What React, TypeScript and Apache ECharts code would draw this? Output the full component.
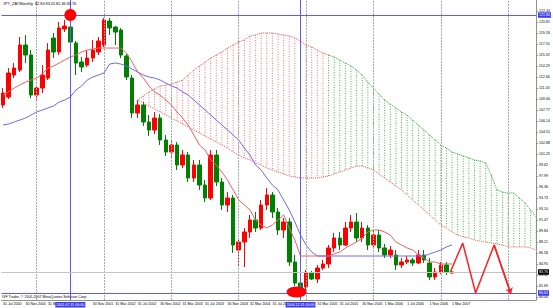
import React, { useEffect, useRef } from "react";
import * as echarts from "echarts";

// ---- data ----
const titleText = "JPY_ZAT,Monthly  82.84 83.20 82.46 83.76";
const copyrightText = "IVF Trader, \u00a9 2001-2007 MetaQuotes Software Corp.";

// time-axis labels (the two hidden under the highlighted boxes are left out)
const dateLabels = [
  "31 Jul 2000", "30 Nov 2000", "31 Mar 2001", "30 Nov 2001",
  "31 Mar 2002", "31 Jul 2002", "30 Nov 2002", "31 Mar 2003", "31 Jul 2003",
  "30 Nov 2003", "31 Mar 2004", "31 Jul 2004", "31 Mar 2005",
  "31 Jul 2005", "30 Nov 2005", "1 Mar 2006", "1 Jul 2006", "1 Nov 2006", "1 Mar 2007",
];
const dateLabelBars = [0, 4, 8, 16, 20, 24, 28, 32, 36, 40, 44, 48, 56, 60, 64, 68, 72, 76, 80];
const yearGridBars = [6, 18, 30, 42, 54, 66, 78, 90];

const priceTicks = [
  80.06, 81.69, 83.32, 84.95, 86.58, 88.21, 89.84, 91.47, 93.1, 94.73, 96.36, 97.99, 99.62,
  101.25, 102.88, 104.51, 106.14, 107.77, 109.4, 111.03, 112.66, 114.29, 115.92, 117.55,
  119.18, 120.81, 122.44,
];

// open, close, low, high (monthly bars from Jul 2000)
const ohlc: number[][] = [
  [108.51, 110.28, 108.06, 111.03], [109.69, 113.25, 109.4, 113.99], [112.95, 113.99, 112.51, 114.73],
  [113.69, 117.4, 113.4, 118.58], [117.4, 115.92, 114.73, 118.88], [115.92, 109.99, 109.54, 116.66],
  [109.99, 111.03, 109.25, 111.47], [111.03, 112.95, 110.28, 114.43], [112.51, 116.66, 112.21, 117.69],
  [118.43, 116.36, 115.47, 119.18], [116.36, 119.92, 115.92, 120.81], [119.77, 120.21, 119.32, 121.1],
  [120.06, 117.84, 117.55, 121.84], [117.69, 114.73, 112.95, 117.99], [114.88, 114.14, 113.4, 115.62],
  [114.43, 115.47, 114.14, 116.66], [115.47, 116.66, 114.88, 118.14], [116.36, 117.99, 115.92, 118.58],
  [117.4, 121.1, 117.1, 121.4], [120.95, 119.92, 118.88, 121.4], [120.06, 119.32, 117.4, 120.21],
  [119.62, 115.92, 115.47, 119.92], [115.77, 112.66, 112.21, 116.06], [112.51, 107.32, 106.58, 112.95],
  [107.32, 108.51, 106.58, 109.25], [108.51, 105.99, 105.39, 108.95], [105.99, 104.8, 103.91, 107.02],
  [104.8, 106.58, 104.21, 107.47], [106.58, 103.32, 102.58, 107.17], [103.32, 101.54, 100.95, 104.06],
  [101.54, 102.58, 100.65, 103.32], [102.58, 99.62, 98.87, 103.02], [99.62, 101.1, 99.17, 101.84],
  [101.1, 97.69, 97.1, 101.54], [97.69, 99.62, 97.1, 100.36], [99.62, 96.65, 95.91, 100.36],
  [96.65, 94.73, 94.13, 97.39], [94.73, 101.1, 94.43, 101.84], [101.1, 97.1, 96.5, 101.84],
  [97.1, 93.69, 92.95, 97.69], [93.69, 94.73, 92.65, 95.61], [94.73, 87.76, 86.58, 95.17],
  [87.02, 88.21, 84.8, 88.8], [88.21, 89.69, 84.5, 90.28], [89.69, 91.47, 88.8, 92.21],
  [91.47, 90.28, 89.69, 92.65], [90.28, 93.69, 89.98, 94.43], [93.69, 95.17, 92.95, 96.21],
  [95.17, 92.65, 91.76, 95.61], [92.65, 89.98, 89.24, 93.24], [89.98, 91.17, 88.8, 91.76],
  [91.17, 85.24, 84.65, 91.76], [85.24, 82.13, 81.69, 86.28], [82.13, 81.39, 80.65, 82.58],
  [81.54, 83.61, 81.09, 84.06], [83.61, 82.72, 82.58, 83.91], [82.72, 84.35, 82.13, 84.8],
  [84.35, 84.95, 84.06, 85.54], [84.95, 87.32, 84.35, 87.76], [87.32, 88.8, 86.72, 89.54],
  [88.8, 87.76, 87.02, 89.69], [87.76, 90.28, 87.61, 91.17], [90.28, 91.17, 89.69, 92.21],
  [91.17, 88.8, 88.21, 92.5], [88.8, 90.28, 88.21, 91.17], [90.28, 87.76, 87.02, 90.72],
  [87.76, 89.24, 87.32, 89.98], [89.24, 87.32, 86.72, 89.98], [87.32, 86.28, 85.84, 87.91],
  [86.28, 87.02, 85.84, 87.61], [86.28, 84.8, 84.06, 87.02], [84.8, 85.24, 84.35, 85.84],
  [85.24, 85.54, 84.95, 86.13], [85.54, 85.09, 84.65, 85.84], [85.09, 86.28, 84.95, 87.02],
  [86.28, 85.54, 85.09, 87.02], [85.09, 83.02, 82.58, 85.84], [83.02, 83.76, 82.58, 84.35],
  [83.76, 84.8, 83.46, 85.24], [84.8, 83.76, 83.32, 85.24], [83.61, 83.76, 83.46, 83.91],
];

const tenkan = [
  109.99, 110.43, 111.03, 111.47, 111.91, 112.21, 112.51, 113.1, 113.99, 114.29, 114.73, 115.17,
  115.62, 115.92, 116.36, 116.66, 116.8, 116.95, 116.95, 116.95, 116.95, 116.95, 116.21, 114.88,
  113.4, 112.51, 111.32, 110.43, 109.99, 109.25, 108.51, 107.47, 106.58, 105.54, 104.06, 102.58,
  101.84, 100.36, 99.62, 98.58, 97.39, 95.91, 94.43, 93.69, 92.95, 91.47, 90.72, 90.28, 90.72,
  91.47, 92.21, 90.28, 88.5, 86.13, 86.13, 86.13, 86.13, 86.13, 86.13, 86.43, 86.72, 87.32, 87.76,
  88.21, 88.8, 89.69, 89.98, 89.98, 89.69, 89.24, 88.21, 87.76, 87.32, 87.02, 86.28, 85.84, 85.24,
  85.24, 84.95, 84.95, 84.95,
];

const kijun = [
  105.54, 105.69, 105.99, 106.28, 106.58, 107.02, 107.47, 107.77, 108.06, 108.36, 108.95, 109.25,
  109.69, 110.73, 111.32, 112.21, 112.66, 112.95, 113.25, 114.58, 114.73, 114.58, 114.29, 113.84,
  113.4, 112.95, 112.66, 112.51, 112.21, 111.77, 111.32, 111.03, 110.43, 109.99, 109.25, 108.51,
  107.77, 107.02, 106.28, 105.54, 104.8, 104.06, 103.32, 102.13, 101.1, 99.62, 98.87, 97.69, 96.65,
  95.91, 94.43, 92.95, 91.17, 89.24, 87.76, 86.72, 86.13, 86.13, 86.13, 86.13, 86.13, 86.13, 86.13,
  86.13, 86.13, 86.13, 86.13, 86.13, 86.13, 86.13, 86.13, 86.13, 86.13, 86.13, 86.13, 86.13, 86.43,
  86.72, 87.02, 87.47, 87.76,
];

const cloudStartBar = 24;
const cloudColourSwitchBar = 58;
const cloudTop = [
  109.25, 109.84, 110.43, 110.88, 111.32, 111.47, 111.62, 111.91, 112.21, 112.95, 113.69, 114.29,
  114.88, 115.47, 115.92, 116.36, 116.95, 117.4, 117.84, 118.14, 118.73, 118.88, 119.18, 119.18,
  119.18, 119.03, 118.88, 118.73, 118.43, 117.99, 117.4, 117.1, 116.66, 116.21, 115.92, 115.62,
  115.17, 114.73, 114.29, 113.69, 112.95, 111.91, 111.03, 110.14, 109.25, 108.65, 108.06, 107.47,
  107.02, 106.28, 105.54, 104.8, 104.06, 103.32, 102.58, 102.13, 101.54, 101.25, 100.95, 100.65,
  100.36, 100.21, 99.91, 98.13, 95.91, 95.61, 95.47, 95.47, 94.73, 93.98, 92.95, 91.91,
];
const cloudBottom = [
  109.25, 108.8, 108.36, 107.91, 107.47, 107.02, 106.58, 106.14, 105.69, 105.25, 104.8, 104.36,
  103.91, 103.47, 103.02, 102.58, 102.13, 101.54, 101.1, 100.65, 100.36, 99.91, 99.62, 99.17,
  98.87, 98.58, 98.28, 97.99, 97.84, 97.69, 97.69, 97.69, 97.69, 97.84, 97.99, 98.28, 98.58,
  98.87, 99.17, 99.47, 99.47, 99.17, 98.87, 98.28, 97.69, 97.1, 96.5, 95.91, 95.17, 94.43, 93.69,
  92.95, 92.21, 91.47, 90.72, 90.28, 89.69, 89.24, 88.95, 88.8, 88.5, 88.35, 88.21, 88.06, 87.91,
  87.76, 87.47, 87.47, 87.47, 87.47, 87.32, 87.02,
];

const zigzagBars = [79.7, 81.9, 84.2, 87.5, 90.5];
const zigzagPrices = [83.76, 88.06, 80.65, 87.76, 80.5];

const highLinePrice = 121.84;
const lowLinePrice = 80.65;
const bidPrice = 83.76;
const markedBars = [12, 53];
const markedBarLabels = ["2001.07.31 00:00", "2004.12.31 00:00"];
const topCircle = [12, 121.84];
const bottomEllipse = [52.3, 80.8];

const FONT = "Liberation Sans, Arial, sans-serif";

export default function App() {
  const ref = useRef<HTMLDivElement>(null);
  useEffect(() => {
    if (!ref.current) return;
    const chart = echarts.init(ref.current, null, { renderer: "svg" });

    const candleData = ohlc.map((d, i) => [i, d[0], d[1], d[2], d[3]]);
    const tenkanData = tenkan.map((v, i) => [i, v]);
    const kijunData = kijun.map((v, i) => [i, v]);
    const hatchData = cloudTop.map((v, k) => [cloudStartBar + k, v, cloudBottom[k]]);
    const topPts = cloudTop.map((v, k) => [cloudStartBar + k, v]);
    const topRed = topPts.filter((d) => d[0] <= cloudColourSwitchBar);
    const topGreen = topPts.filter((d) => d[0] >= cloudColourSwitchBar);
    const bottomData = cloudBottom.map((v, k) => [cloudStartBar + k, v]);
    const zz = zigzagBars.map((b, k) => [b, zigzagPrices[k]]);

    const blue = "#5a5aff";
    const boxLabel = (text: string, bg: string, pos: string) => ({
      show: true,
      position: pos,
      formatter: text,
      backgroundColor: bg,
      color: "#fff",
      fontSize: 3.6,
      fontFamily: FONT,
      padding: [1, 1, 0.5, 1],
      distance: 2,
    });

    const markLineData: any[] = [
      ...yearGridBars.map((b) => ({
        xAxis: b,
        lineStyle: { color: "#aaaaaa", type: [2, 1], width: 1 },
        label: { show: false },
      })),
      ...markedBars.map((b, k) => ({
        xAxis: b,
        lineStyle: { color: blue, type: "solid", width: 1 },
        label: boxLabel(markedBarLabels[k], "#3c3cf0", "start"),
      })),
      {
        yAxis: bidPrice,
        lineStyle: { color: "#c4c4c4", type: "solid", width: 1 },
        label: boxLabel(bidPrice.toFixed(2), "#000", "end"),
      },
      {
        yAxis: highLinePrice,
        lineStyle: { color: blue, type: "solid", width: 1 },
        label: boxLabel(highLinePrice.toFixed(2), "#3c3cf0", "end"),
      },
      {
        yAxis: lowLinePrice,
        lineStyle: { color: blue, type: "solid", width: 1 },
        label: boxLabel(lowLinePrice.toFixed(2), "#3c3cf0", "end"),
      },
    ];

    const option: any = {
      animation: false,
      backgroundColor: "#ffffff",
      textStyle: { fontFamily: FONT },
      title: {
        text: titleText,
        left: 3,
        top: 2,
        padding: 0,
        textStyle: { fontSize: 3.8, fontWeight: "normal", color: "#000", fontFamily: FONT },
      },
      graphic: [
        {
          type: "text",
          left: 2,
          top: 295,
          style: { text: copyrightText, fontSize: 3.6, fill: "#000", fontFamily: FONT },
        },
      ],
      grid: { left: 0, top: 0, width: 538, height: 300, containLabel: false },
      xAxis: {
        type: "value",
        min: -0.27,
        max: 94.96,
        splitLine: { show: false },
        axisLine: { show: true, onZero: false, lineStyle: { color: "#909090", width: 1 } },
        axisTick: { show: false },
        axisLabel: {
          customValues: dateLabelBars,
          formatter: (v: number) => {
            const k = dateLabelBars.indexOf(Math.round(v));
            return k >= 0 ? dateLabels[k] : "";
          },
          fontSize: 3.6,
          color: "#000",
          align: "left",
          margin: 2,
          fontFamily: FONT,
        },
      },
      yAxis: {
        type: "value",
        position: "right",
        min: 79.61,
        max: 124.07,
        scale: true,
        splitLine: { show: false },
        axisLine: { show: true, onZero: false, lineStyle: { color: "#909090", width: 1 } },
        axisTick: { show: true, length: 2, customValues: priceTicks, lineStyle: { color: "#909090" } },
        axisLabel: {
          customValues: priceTicks,
          formatter: (v: number) => v.toFixed(2),
          fontSize: 3.6,
          color: "#000",
          margin: 3,
          fontFamily: FONT,
        },
      },
      series: [
        {
          type: "custom",
          name: "kumo",
          data: hatchData,
          encode: { x: 0, y: [1, 2] },
          silent: true,
          renderItem: (params: any, api: any) => {
            const i = api.value(0);
            const p1 = api.coord([i, api.value(1)]);
            const p2 = api.coord([i, api.value(2)]);
            return {
              type: "line",
              shape: { x1: p1[0], y1: p1[1], x2: p2[0], y2: p2[1] },
              style: {
                stroke: i < cloudColourSwitchBar ? "#f07878" : "#4cb84c",
                lineWidth: 1,
                lineDash: [1, 1.5],
              },
            };
          },
        },
        {
          type: "line",
          name: "spanTopRed",
          data: topRed,
          showSymbol: false,
          symbol: "none",
          lineStyle: { color: "#f05050", width: 1, type: [1, 1] },
          silent: true,
        },
        {
          type: "line",
          name: "spanTopGreen",
          data: topGreen,
          showSymbol: false,
          symbol: "none",
          lineStyle: { color: "#30a030", width: 1, type: [1, 1] },
          silent: true,
        },
        {
          type: "line",
          name: "spanBottom",
          data: bottomData,
          showSymbol: false,
          symbol: "none",
          lineStyle: { color: "#f05050", width: 1, type: [1, 1] },
          silent: true,
        },
        {
          type: "line",
          name: "tenkan",
          data: tenkanData,
          showSymbol: false,
          symbol: "none",
          lineStyle: { color: "#ee6060", width: 1 },
          silent: true,
        },
        {
          type: "line",
          name: "kijun",
          data: kijunData,
          showSymbol: false,
          symbol: "none",
          lineStyle: { color: "#6b6bf0", width: 1 },
          silent: true,
        },
        {
          type: "candlestick",
          name: "price",
          data: candleData,
          encode: { x: 0, y: [1, 2, 3, 4] },
          barWidth: 4,
          itemStyle: {
            color: "#ff0000",
            color0: "#008000",
            borderColor: "#ff0000",
            borderColor0: "#008000",
            borderWidth: 1,
          },
          markLine: {
            silent: true,
            symbol: ["none", "none"],
            animation: false,
            data: markLineData,
          },
        },
        {
          type: "line",
          name: "zigzag",
          data: zz,
          showSymbol: false,
          symbol: "none",
          lineStyle: { color: "#ff2020", width: 1.5 },
          silent: true,
          z: 5,
        },
        {
          type: "lines",
          coordinateSystem: "cartesian2d",
          data: [{ coords: [zz[zz.length - 2], zz[zz.length - 1]] }],
          symbol: ["none", "arrow"],
          symbolSize: 6,
          lineStyle: { color: "#ff2020", width: 1.5, opacity: 1 },
          silent: true,
          z: 5,
        },
        {
          type: "scatter",
          name: "marks",
          data: [
            { value: topCircle, symbolSize: 12 },
            { value: bottomEllipse, symbolSize: [20, 11] },
          ],
          itemStyle: { color: "#ff0000", opacity: 1 },
          silent: true,
          z: 6,
        },
      ],
    };

    chart.setOption(option);
    return () => chart.dispose();
  }, []);

  return (
    <div
      ref={ref}
      style={{ position: "absolute", left: 0, top: 0, width: 553, height: 308, background: "#fff" }}
    />
  );
}
